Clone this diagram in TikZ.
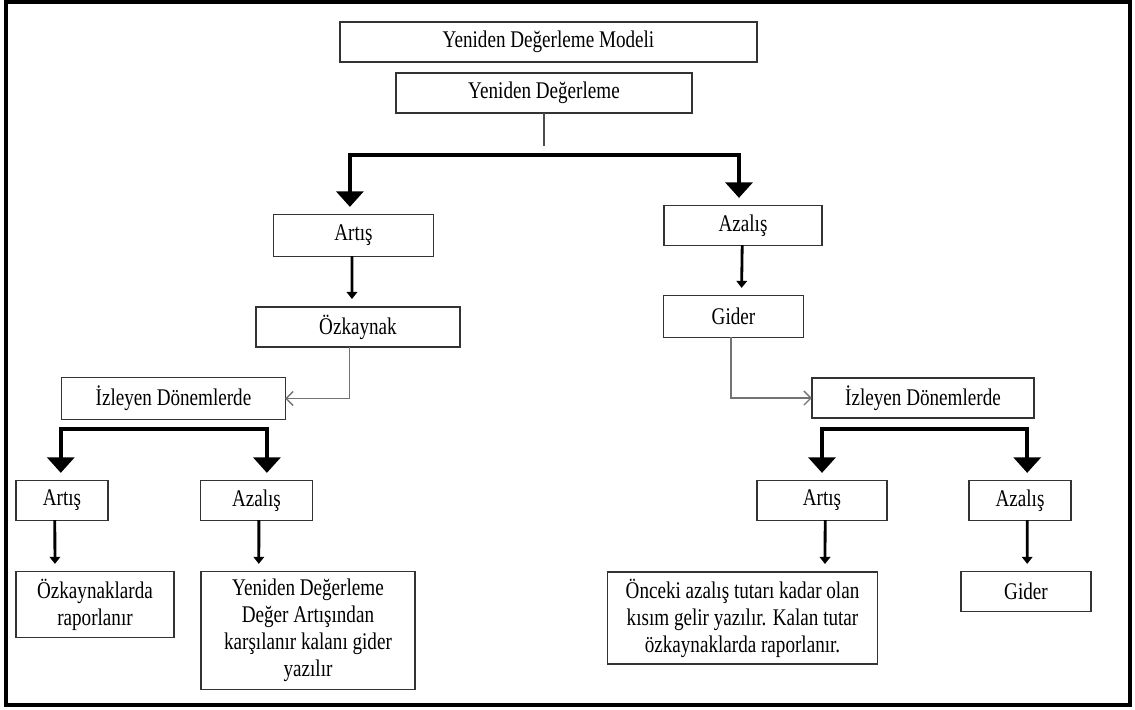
\documentclass[tikz,border=0pt]{standalone}
\usepackage{fontspec}
\setmainfont[FakeStretch=0.8]{Liberation Serif}
\usetikzlibrary{arrows.meta}

\begin{document}
\begin{tikzpicture}
  [x=0.025cm,y=-0.025cm,
   box/.style={rectangle,draw=black!80,line width=0.8pt,align=center,
               inner sep=0,outer sep=0,minimum height=1cm},
   bigarrow/.style={line width=2.8pt,-{Triangle[length=11pt,width=19pt]},
                    shorten >=0.2cm},
   smallarrow/.style={line width=2pt,-{Triangle[length=5pt,width=7.5pt]},
                      shorten >=0.2cm},
   grayarrow/.style={draw=black!55,line width=1pt,
                     -{Straight Barb[length=5pt,width=10pt]}},
   every node/.style={font=\fontsize{17}{19.2}\selectfont}]
  \useasboundingbox (0,0) rectangle (1135,709);
  \draw[line width=2.85pt] (6,2) rectangle (1130,704.5);
  \node[box,minimum width=10.42cm] (model) at (548.5,42) {Yeniden Değerleme Modeli};
  \node[box,minimum width=7.4cm] (yd) at (544,93) {Yeniden Değerleme};
  \node[box,minimum width=3.98cm,minimum height=1.03cm] (artis) at (353.5,235.5) {Artış};
  \node[box,minimum width=3.95cm,minimum height=0.98cm] (azalis) at (743,225.5) {Azalış};
  \node[box,minimum width=5.1cm] (ozkaynak) at (358,327) {Özkaynak};
  \node[box,minimum width=3.48cm,minimum height=1.03cm] (gider) at (733.5,316.5) {Gider};
  \node[box,minimum width=5.58cm,minimum height=1.03cm] (izleyenL) at (173.5,398.5) {İzleyen Dönemlerde};
  \node[box,minimum width=5.55cm] (izleyenR) at (923,398) {İzleyen Dönemlerde};
  \node[box,minimum width=2.3cm,minimum height=0.98cm] (artisL) at (62,500.5) {Artış};
  \node[box,minimum width=2.78cm,minimum height=0.98cm] (azalisL) at (256.5,500.5) {Azalış};
  \node[box,minimum width=3.25cm,minimum height=0.98cm] (artisR) at (822,500.5) {Artış};
  \node[box,minimum width=2.55cm,minimum height=0.98cm] (azalisR) at (1020,500.5) {Azalış};
  \node[box,minimum width=3.95cm,minimum height=1.63cm] (raporL) at (95,604.5) {Özkaynaklarda\\raporlanır};
  \node[box,minimum width=5.35cm,minimum height=2.93cm] (karsilanir) at (308,630.5)
    {Yeniden Değerleme\\Değer Artışından\\karşılanır kalanı gider\\yazılır};
  \node[box,minimum width=6.73cm,minimum height=2.3cm] (onceki) at (742.5,618)
    {Önceki azalış tutarı kadar olan\\kısım gelir yazılır. Kalan tutar\\özkaynaklarda raporlanır.};
  \node[box,minimum width=3.25cm,minimum height=0.98cm] (giderR) at (1026,591.5) {Gider};
  \coordinate (split) at (544,155);
  \coordinate (splitL) at (164,429);
  \coordinate (splitR) at (923,429);
  \draw[line width=0.8pt,black!70,shorten >=0.22cm] (yd.south) -- (split);
  \draw[bigarrow] (split) -| ([xshift=-0.09cm]artis.north);
  \draw[bigarrow] (split) -| ([xshift=-0.1cm]azalis.north);
  \draw[smallarrow] ([xshift=-0.04cm]artis.south) -- ([xshift=-0.15cm]ozkaynak.north);
  \draw[smallarrow] ([xshift=-0.02cm]azalis.south) -- ([xshift=0.2cm]gider.north);
  \draw[grayarrow] ([xshift=-0.22cm]ozkaynak.south) |- (izleyenL.east);
  \draw[grayarrow] ([xshift=-0.06cm]gider.south) |- (izleyenR.west);
  \draw[bigarrow] (splitL) -| ([xshift=-0.03cm]artisL.north);
  \draw[bigarrow] (splitL) -| ([xshift=0.26cm]azalisL.north);
  \draw[bigarrow] (splitR) -| (artisR.north);
  \draw[bigarrow] (splitR) -| ([xshift=0.18cm]azalisR.north);
  \draw[smallarrow] ([xshift=-0.18cm]artisL.south) -- ([xshift=-1cm]raporL.north);
  \draw[smallarrow] ([xshift=0.06cm]azalisL.south) -- ([xshift=-1.23cm]karsilanir.north);
  \draw[smallarrow] ([xshift=0.08cm]artisR.south) -- ([xshift=2.06cm]onceki.north);
  \draw[smallarrow] ([xshift=0.18cm]azalisR.south) -- ([xshift=0.03cm]giderR.north);
\end{tikzpicture}
\end{document}
